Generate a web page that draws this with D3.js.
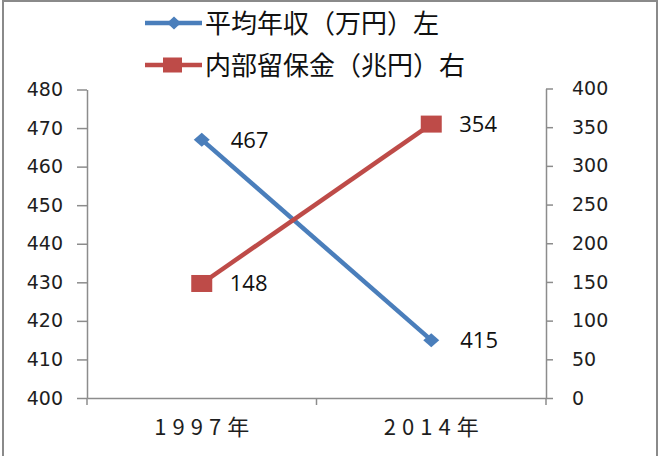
<!DOCTYPE html>
<html>
<head>
<meta charset="utf-8">
<script src="https://cdn.jsdelivr.net/npm/d3@7"></script>
<style>
    html, body { margin: 0; padding: 0; background: #fff; }
    svg { display: block; }
</style>
</head>
<body>
<div id="grafico"></div>
<script>

// dados
const categorias = ["1997年", "2014年"];
const rendaMedia = [467, 415];      // 平均年収（万円）左
const reservaInterna = [148, 354];  // 内部留保金（兆円）右
const ticksEsquerda = [400, 410, 420, 430, 440, 450, 460, 470, 480];
const ticksDireita = [0, 50, 100, 150, 200, 250, 300, 350, 400];
const nomesSeries = ["平均年収（万円）左", "内部留保金（兆円）右"];

const largura = 662, altura = 456;
const corAzul = "#4a7ebb", corVermelha = "#be4b48", corEixo = "#8c8c8c";

const svg = d3.select("#grafico").append("svg")
    .attr("width", largura)
    .attr("height", altura);

// moldura
svg.append("rect")
    .attr("x", 3).attr("y", 1)
    .attr("width", 654).attr("height", 470)
    .attr("fill", "none")
    .attr("stroke", "#8a8a8a")
    .attr("stroke-width", 2);

const x = d3.scaleBand().domain(categorias).range([87, 546]);
const yEsq = d3.scaleLinear().domain([400, 480]).range([398, 89.5]);
const yDir = d3.scaleLinear().domain([0, 400]).range([398, 88.5]);

const fonteEixo = "'DejaVu Sans', Verdana, sans-serif";

function estilizarEixo(g){
    g.select(".domain").attr("stroke", corEixo).attr("stroke-width", 1.5);
    g.selectAll(".tick line").attr("stroke", corEixo).attr("stroke-width", 1.5);
    g.selectAll(".tick text")
        .attr("fill", "#1e1e1e")
        .style("font-family", fonteEixo)
        .style("font-size", "19px");
}

// eixo esquerdo
svg.append("g")
    .attr("transform", "translate(87,0)")
    .call(d3.axisLeft(yEsq).tickValues(ticksEsquerda).tickSize(10).tickSizeOuter(0).tickPadding(14))
    .call(estilizarEixo);

// eixo direito
svg.append("g")
    .attr("transform", "translate(546,0)")
    .call(d3.axisRight(yDir).tickValues(ticksDireita).tickSize(7).tickSizeOuter(0).tickPadding(19))
    .call(estilizarEixo);

// eixo das categorias
const eixoX = svg.append("g")
    .attr("transform", "translate(0,398)")
    .call(d3.axisBottom(x).tickSize(0).tickSizeOuter(0));
eixoX.select(".domain").attr("stroke", corEixo).attr("stroke-width", 1.5);
eixoX.selectAll(".tick text")
    .attr("y", 37)
    .attr("dy", 0)
    .attr("dx", 3)
    .attr("fill", "#1e1e1e")
    .style("font-family", "'Noto Sans CJK JP', sans-serif")
    .style("font-size", "22px")
    .style("letter-spacing", "6px");

// marcas nos limites das categorias
const limites = categorias.map(c => x(c)).concat([x.range()[1]]);
eixoX.selectAll(".limite")
    .data(limites)
    .enter().append("line")
        .attr("class", "limite")
        .attr("x1", d => d).attr("x2", d => d)
        .attr("y1", 0).attr("y2", 7)
        .attr("stroke", corEixo)
        .attr("stroke-width", 1.5);

const cx = c => x(c) + x.bandwidth() / 2;

// linhas
const linhaEsq = d3.line().x((d, i) => cx(categorias[i])).y(d => yEsq(d));
const linhaDir = d3.line().x((d, i) => cx(categorias[i])).y(d => yDir(d));

svg.append("path")
    .datum(rendaMedia)
    .attr("d", linhaEsq)
    .attr("fill", "none")
    .attr("stroke", corAzul)
    .attr("stroke-width", 4.5);

svg.append("path")
    .datum(reservaInterna)
    .attr("d", linhaDir)
    .attr("fill", "none")
    .attr("stroke", corVermelha)
    .attr("stroke-width", 4.5);

const losango = (w, h) => `M0,${-h}L${w},0L0,${h}L${-w},0Z`;

// marcadores
svg.selectAll(".losango")
    .data(rendaMedia)
    .enter().append("path")
        .attr("class", "losango")
        .attr("d", losango(8, 7))
        .attr("transform", (d, i) => `translate(${cx(categorias[i])},${yEsq(d)})`)
        .attr("fill", corAzul);

svg.selectAll(".quadrado")
    .data(reservaInterna)
    .enter().append("rect")
        .attr("class", "quadrado")
        .attr("x", (d, i) => cx(categorias[i]) - 10.5)
        .attr("y", d => yDir(d) - 8.5)
        .attr("width", 21)
        .attr("height", 17)
        .attr("fill", corVermelha);

// rótulos dos dados
const fonteRotulo = "'Open Sans', sans-serif";

svg.selectAll(".rotuloEsq")
    .data(rendaMedia)
    .enter().append("text")
        .attr("class", "rotuloEsq")
        .attr("x", (d, i) => cx(categorias[i]) + 29)
        .attr("y", d => yEsq(d) + 8)
        .style("font-family", fonteRotulo)
        .style("font-size", "22px")
        .attr("fill", "#111")
        .text(d => d);

svg.selectAll(".rotuloDir")
    .data(reservaInterna)
    .enter().append("text")
        .attr("class", "rotuloDir")
        .attr("x", (d, i) => cx(categorias[i]) + 28)
        .attr("y", d => yDir(d) + 8)
        .style("font-family", fonteRotulo)
        .style("font-size", "22px")
        .attr("fill", "#111")
        .text(d => d);

// legenda
const legenda = svg.append("g");
const itensLegenda = [
    {nome: nomesSeries[0], cor: corAzul, y: 23, marca: "losango"},
    {nome: nomesSeries[1], cor: corVermelha, y: 65, marca: "quadrado"}
];

itensLegenda.forEach(item => {
    legenda.append("line")
        .attr("x1", 145).attr("x2", 202)
        .attr("y1", item.y).attr("y2", item.y)
        .attr("stroke", item.cor)
        .attr("stroke-width", 4.5);

    if (item.marca === "losango"){
        legenda.append("path")
            .attr("d", losango(7, 6.5))
            .attr("transform", `translate(174,${item.y})`)
            .attr("fill", item.cor);
    } else {
        legenda.append("rect")
            .attr("x", 163).attr("y", item.y - 7.5)
            .attr("width", 19).attr("height", 15)
            .attr("fill", item.cor);
    }

    legenda.append("text")
        .attr("x", 205)
        .attr("y", item.y + 10)
        .style("font-family", "'Noto Sans CJK JP', sans-serif")
        .style("font-size", "26px")
        .attr("fill", "#111")
        .text(item.nome);
});

</script>
</body>
</html>
